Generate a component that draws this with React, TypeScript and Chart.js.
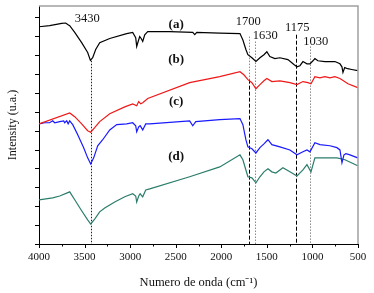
import React, { useEffect, useRef } from "react";
import { Chart, registerables } from "chart.js";

Chart.register(...registerables);

// ---- Data (wavenumber in cm-1, intensity in arbitrary units) ----
const wnA = [4000,3883,3751,3707,3685,3663,3608,3532,3466,3436,3411,3378,3334,3224,3038,2972,2939,2928,2912,2895,2879,2862,2840,2807,2566,2313,2291,2269,2017,1795,1763,1730,1708,1664,1620,1576,1532,1500,1467,1412,1357,1269,1203,1170,1137,1104,1060,1027,994,973,940,863,753,698,676,665,646,613,569,503];
const intA = [5.75,5.78,5.84,5.85,5.81,5.78,5.60,5.33,5.07,4.86,4.93,5.15,5.33,5.44,5.57,5.60,5.46,5.23,5.36,5.49,5.44,5.36,5.54,5.62,5.62,5.60,5.54,5.60,5.58,5.57,5.40,5.15,5.01,4.93,4.83,4.93,5.01,5.09,4.96,4.91,4.93,4.88,4.75,4.69,4.72,4.83,4.77,4.77,4.85,4.91,4.85,4.83,4.83,4.77,4.69,4.54,4.67,4.64,4.62,4.59];

const wnB = [4000,3663,3608,3532,3466,3433,3389,3334,3224,3059,2972,2928,2906,2884,2862,2807,2347,2017,1795,1752,1708,1664,1620,1576,1532,1500,1445,1357,1247,1170,1104,1049,1016,973,918,863,808,753,698,610,503];
const intB = [3.18,3.47,3.37,3.18,3.00,2.96,3.08,3.24,3.45,3.63,3.71,3.66,3.77,3.71,3.74,3.85,4.27,4.43,4.56,4.48,4.35,4.27,4.11,4.22,4.32,4.38,4.30,4.32,4.27,4.22,4.30,4.27,4.24,4.43,4.40,4.43,4.40,4.43,4.38,4.24,4.14];

const wnC = [4000,3937,3883,3850,3828,3773,3729,3718,3696,3680,3663,3630,3575,3510,3466,3433,3400,3356,3301,3224,3147,3038,2972,2939,2928,2906,2890,2862,2829,2785,2347,2313,2280,2017,1795,1763,1730,1708,1664,1620,1576,1532,1488,1445,1357,1247,1170,1104,1060,1027,973,918,808,731,698,676,654,632,588,503];
const intC = [3.18,3.21,3.21,3.26,3.21,3.24,3.26,3.21,3.26,3.18,3.26,3.16,2.89,2.55,2.28,2.12,2.28,2.60,2.76,3.02,3.16,3.18,3.21,3.13,2.97,3.10,3.13,3.02,3.18,3.18,3.26,3.13,3.24,3.29,3.32,3.16,2.76,2.57,2.52,2.41,2.55,2.65,2.76,2.63,2.57,2.49,2.36,2.44,2.49,2.44,2.68,2.63,2.60,2.55,2.49,2.15,2.36,2.39,2.36,2.28];

const wnD = [4000,3850,3773,3663,3608,3532,3466,3433,3389,3334,3279,3169,3059,2972,2939,2928,2906,2890,2862,2829,2785,2347,2017,1795,1763,1730,1708,1664,1620,1576,1532,1488,1445,1401,1324,1247,1170,1104,1060,1016,973,918,808,731,643,503];
const intD = [1.17,1.22,1.27,1.38,1.17,0.88,0.64,0.53,0.66,0.85,0.95,1.11,1.25,1.33,1.27,1.11,1.27,1.33,1.25,1.43,1.46,1.78,2.04,2.36,2.23,1.96,1.78,1.75,1.62,1.78,1.91,1.99,1.91,1.88,2.02,1.91,1.80,1.96,2.10,1.91,2.28,2.28,2.28,2.28,2.23,2.07];

const seriesNames = ["(a)", "(b)", "(c)", "(d)"];
const seriesColors = ["#000000", "#f01818", "#1a1aff", "#2b7d6c"];
const seriesLabelWn = [2495, 2495, 2495, 2495];
const seriesLabelInt = [5.81, 4.88, 3.77, 2.31];

// Band markers
const peakLabels = ["3430", "1700", "1630", "1175", "1030"];
const peakLabelWn = [3471, 1705, 1518, 1167, 964];
const peakLabelInt = [5.97, 5.89, 5.52, 5.73, 5.36];
const markerWn = [3430, 1700, 1700, 1630, 1175, 1030];
const markerTop = [4.85, 5.49, 4.35, 5.36, 5.54, 5.23];
const markerBottom = [0, 4.35, 0, 0, 0, 0];
const markerStyle = ["blackDot", "greyDot", "blackDash", "greyDot", "blackDash", "greyDot"];

const xTicks = [4000, 3500, 3000, 2500, 2000, 1500, 1000, 500];
const xMinorStep = 250;
const yTickStep = 0.5;

const zip = (xs: number[], ys: number[]) => {
  const n = Math.min(xs.length, ys.length);
  const out: { x: number; y: number }[] = [];
  for (let i = 0; i < n; i++) out.push({ x: xs[i], y: ys[i] });
  return out;
};

const serif = "'Liberation Serif', 'Times New Roman', serif";

const annotPlugin = {
  id: "annot",
  beforeDatasetsDraw(chart: any) {
    const { ctx, scales } = chart;
    const x = scales.x, y = scales.y;
    ctx.save();
    for (let i = 0; i < markerWn.length; i++) {
      const px = Math.round(x.getPixelForValue(markerWn[i])) + 0.5;
      const st = markerStyle[i];
      if (st === "blackDot") { ctx.strokeStyle = "#222"; ctx.setLineDash([1.5, 1.5]); ctx.lineWidth = 1; }
      else if (st === "greyDot") { ctx.strokeStyle = "#8a8a8a"; ctx.setLineDash([1.5, 1.5]); ctx.lineWidth = 1; }
      else { ctx.strokeStyle = "#000"; ctx.setLineDash([4, 2]); ctx.lineWidth = 1; }
      ctx.beginPath();
      ctx.moveTo(px, y.getPixelForValue(markerTop[i]));
      ctx.lineTo(px, y.getPixelForValue(markerBottom[i]));
      ctx.stroke();
    }
    ctx.restore();
  },
  afterDraw(chart: any) {
    const { ctx, chartArea, scales } = chart;
    const x = scales.x, y = scales.y;
    ctx.save();
    ctx.strokeStyle = "#a0a0a0";
    ctx.lineWidth = 1.5;
    ctx.beginPath();
    ctx.moveTo(chartArea.left, chartArea.top);
    ctx.lineTo(chartArea.right, chartArea.top);
    ctx.lineTo(chartArea.right, chartArea.bottom);
    ctx.stroke();
    ctx.strokeStyle = "#000";
    ctx.lineWidth = 1;
    for (let v = x.min; v <= x.max + 1e-6; v += xMinorStep) {
      const px = Math.round(x.getPixelForValue(v)) + 0.5;
      const len = v % 500 === 0 ? 4 : 2.5;
      ctx.beginPath();
      ctx.moveTo(px, chartArea.bottom);
      ctx.lineTo(px, chartArea.bottom + len);
      ctx.stroke();
    }
    for (let v = y.min; v <= y.max + 1e-6; v += yTickStep) {
      const py = Math.round(y.getPixelForValue(v)) + 0.5;
      ctx.beginPath();
      ctx.moveTo(chartArea.left - 4, py);
      ctx.lineTo(chartArea.left, py);
      ctx.stroke();
    }
    ctx.fillStyle = "#111";
    ctx.font = `12.5px ${serif}`;
    ctx.textAlign = "center";
    ctx.textBaseline = "middle";
    for (let i = 0; i < peakLabels.length; i++) {
      ctx.fillText(peakLabels[i], x.getPixelForValue(peakLabelWn[i]), y.getPixelForValue(peakLabelInt[i]));
    }
    ctx.font = `bold 13px ${serif}`;
    for (let i = 0; i < seriesNames.length; i++) {
      ctx.fillText(seriesNames[i], x.getPixelForValue(seriesLabelWn[i]), y.getPixelForValue(seriesLabelInt[i]));
    }
    ctx.restore();
  },
};

export default function App() {
  const ref = useRef<HTMLCanvasElement | null>(null);
  useEffect(() => {
    if (!ref.current) return;
    const series = [zip(wnA, intA), zip(wnB, intB), zip(wnC, intC), zip(wnD, intD)];
    const chart = new Chart(ref.current, {
      type: "line",
      data: {
        datasets: series.map((d, i) => ({
          label: seriesNames[i],
          data: d,
          borderColor: seriesColors[i],
          backgroundColor: seriesColors[i],
          borderWidth: 1.2,
          pointRadius: 0,
          tension: 0,
          fill: false,
        })),
      },
      options: {
        animation: false,
        responsive: true,
        maintainAspectRatio: false,
        parsing: false as any,
        layout: { padding: { top: 6, right: 16, left: 0, bottom: 0 } },
        plugins: { legend: { display: false }, tooltip: { enabled: false } },
        scales: {
          x: {
            type: "linear",
            reverse: true,
            min: 500,
            max: 4000,
            afterFit: (s: any) => { s.height = 49; },
            afterBuildTicks: (s: any) => { s.ticks = xTicks.map((v) => ({ value: v })); },
            grid: { display: false, drawTicks: false },
            border: { display: true, color: "#000", width: 1 },
            ticks: {
              padding: 7,
              color: "#111",
              font: { family: serif, size: 11 },
              maxRotation: 0,
              autoSkip: false,
              callback: (v: any) => String(v),
            },
            title: {
              display: true,
              text: "Numero de onda (cm⁻¹)",
              color: "#111",
              font: { family: serif, size: 12.5 },
              padding: { top: 0, bottom: 3 },
            },
          },
          y: {
            type: "linear",
            min: 0,
            max: 6.3,
            afterFit: (s: any) => { s.width = 39; },
            grid: { display: false, drawTicks: false },
            border: { display: true, color: "#000", width: 1 },
            ticks: { display: false },
            title: {
              display: true,
              text: "Intensity (u.a.)",
              color: "#111",
              font: { family: serif, size: 12 },
              padding: { top: 6, bottom: 0 },
            },
          },
        },
      },
      plugins: [annotPlugin],
    });
    return () => chart.destroy();
  }, []);
  return (
    <div style={{ position: "fixed", left: 0, top: 0, width: 374, height: 293 }}>
      <canvas ref={ref} />
    </div>
  );
}
